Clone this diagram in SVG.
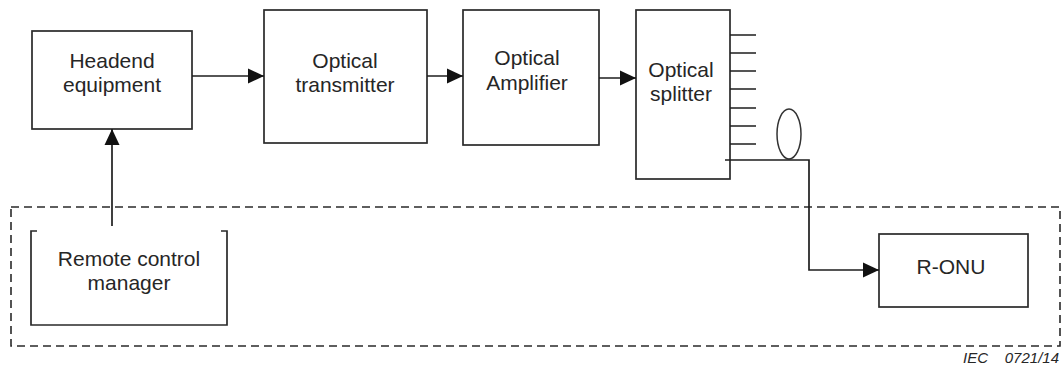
<svg xmlns="http://www.w3.org/2000/svg" width="1064" height="369" viewBox="0 0 1064 369">
  <style>
    .box { fill: #fff; stroke: #2a2a2a; stroke-width: 1.7; }
    .wire { fill: none; stroke: #1e1e1e; stroke-width: 1.7; }
    .lbl { font-family: "Liberation Sans", Arial, sans-serif; font-size: 21px; fill: #262626; text-anchor: middle; }
    .tag { font-family: "Liberation Sans", Arial, sans-serif; font-size: 15px; font-style: italic; fill: #262626; }
  </style>
  <defs>
    <marker id="arrow" viewBox="0 0 16 16" refX="16" refY="8" markerWidth="16" markerHeight="16" markerUnits="userSpaceOnUse" orient="auto">
      <path d="M0,0.5 L16,8 L0,15.5 Z" fill="#111"/>
    </marker>
  </defs>
  <rect width="1064" height="369" fill="#fff"/>

  <!-- remote area boundary -->
  <rect id="remote-area" x="11" y="207" width="1049" height="139" fill="none" stroke="#2a2a2a" stroke-width="1.6" stroke-dasharray="8,5"/>

  <g id="headend">
    <rect class="box" x="32" y="31" width="160" height="98"/>
    <text class="lbl" x="112" y="68">Headend</text>
    <text class="lbl" x="112" y="92">equipment</text>
  </g>

  <g id="transmitter">
    <rect class="box" x="264" y="10" width="163" height="133"/>
    <text class="lbl" x="345" y="68">Optical</text>
    <text class="lbl" x="345" y="92">transmitter</text>
  </g>

  <g id="amplifier">
    <rect class="box" x="463" y="10" width="136" height="135"/>
    <text class="lbl" x="527" y="65">Optical</text>
    <text class="lbl" x="527" y="90">Amplifier</text>
  </g>

  <g id="splitter">
    <rect class="box" x="636" y="10" width="94" height="169"/>
    <text class="lbl" x="681" y="77">Optical</text>
    <text class="lbl" x="681" y="101">splitter</text>
    <path class="wire" d="M730,35 H756 M730,53 H756 M730,71 H756 M730,89 H756 M730,108 H756 M730,126 H756 M730,144 H756"/>
    <ellipse cx="789" cy="134" rx="12" ry="25" fill="none" stroke="#333" stroke-width="1.5"/>
  </g>

  <g id="remote-manager">
    <path class="box" d="M37,231 H31 V325 H227 V231 H221" style="fill:none"/>
    <text class="lbl" x="129" y="266">Remote control</text>
    <text class="lbl" x="129" y="290">manager</text>
  </g>

  <g id="r-onu">
    <rect class="box" x="879" y="234" width="149" height="73"/>
    <text class="lbl" x="951" y="274">R-ONU</text>
  </g>

  <g id="connectors">
    <line class="wire" x1="192" y1="76" x2="264" y2="76" marker-end="url(#arrow)"/>
    <line class="wire" x1="427" y1="76" x2="463" y2="76" marker-end="url(#arrow)"/>
    <line class="wire" x1="599" y1="78" x2="636" y2="78" marker-end="url(#arrow)"/>
    <line class="wire" x1="112" y1="226" x2="112" y2="129" marker-end="url(#arrow)"/>
    <polyline class="wire" points="725,160 809,160 809,270 879,270" marker-end="url(#arrow)"/>
  </g>

  <g id="figure-tag">
    <text class="tag" x="963" y="363">IEC</text>
    <text class="tag" x="1059" y="363" text-anchor="end">0721/14</text>
  </g>
</svg>
